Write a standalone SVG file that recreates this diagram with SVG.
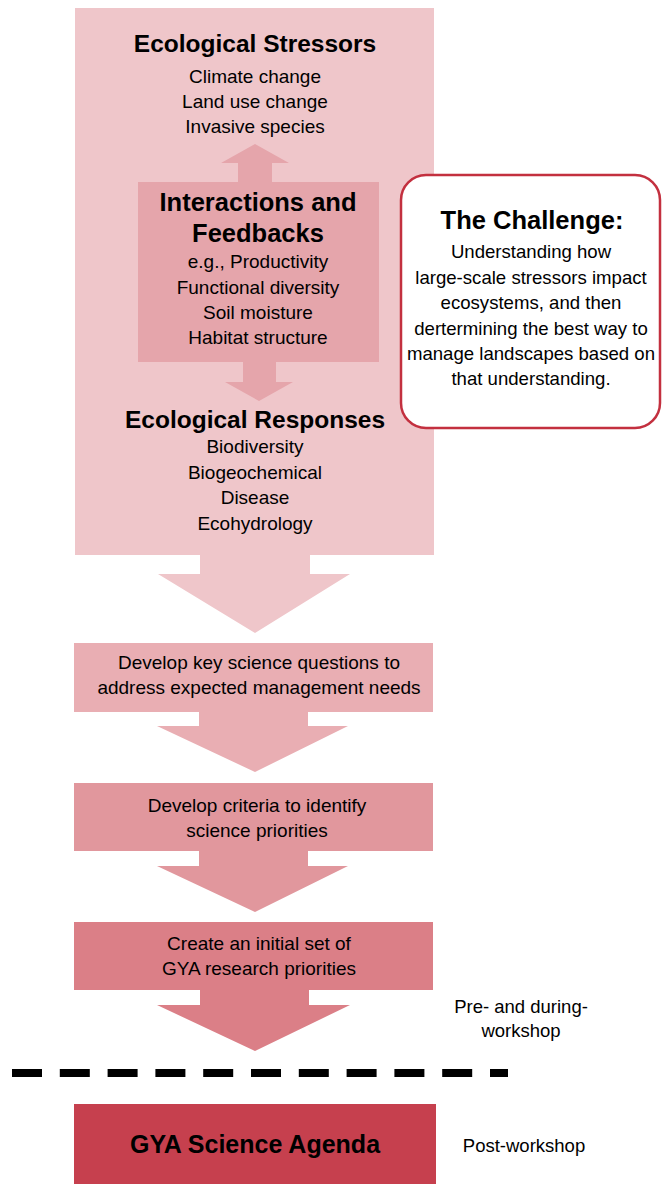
<svg xmlns="http://www.w3.org/2000/svg" width="662" height="1184" viewBox="0 0 662 1184">
<style>
text{font-family:"Liberation Sans",Arial,"DejaVu Sans",sans-serif;fill:#000;text-anchor:middle}
.h{font-weight:bold;font-size:24.5px}
.b{font-size:19px}
.c{font-size:18.6px}
.t{font-size:19px}
.l{font-size:18.5px}
</style>
<rect width="662" height="1184" fill="#fff"/>
<g id="stressors-box">
<rect x="75" y="8" width="359" height="547" fill="#efc6ca"/>
<text class="h" x="255" y="52">Ecological Stressors</text>
<text class="b" x="255" y="83">Climate change</text>
<text class="b" x="255" y="108">Land use change</text>
<text class="b" x="255" y="133">Invasive species</text>
</g>
<g id="connectors">
<polygon points="200,554 310,554 310,574 350,574 255,633 158,574 200,574" fill="#efc6ca"/>
<polygon points="238,183 272,183 272,163 289,163 255,144 221,163 238,163" fill="#e5a5ab"/>
<polygon points="243,361 276,361 276,382 293,382 259,401 225,382 243,382" fill="#e5a5ab"/>
<polygon points="199,711 308,711 308,726 348,726 255,772 157,726 199,726" fill="#e9aeb3"/>
<polygon points="199,850 308,850 308,866 348,866 255,912 157,866 199,866" fill="#e1979d"/>
<polygon points="200,989 309,989 309,1005 350,1005 255,1051 157,1005 200,1005" fill="#db7f87"/>
<line x1="12" y1="1073" x2="508" y2="1073" stroke="#000" stroke-width="8" stroke-dasharray="30 17.8"/>
</g>
<g id="interactions">
<rect x="138" y="182" width="241" height="180" fill="#e5a5ab"/>
<text class="h" x="258" y="211" style="font-size:25.5px">Interactions and</text>
<text class="h" x="258" y="242" style="font-size:25.5px">Feedbacks</text>
<text class="b" x="258" y="268">e.g., Productivity</text>
<text class="b" x="258" y="294">Functional diversity</text>
<text class="b" x="258" y="319">Soil moisture</text>
<text class="b" x="258" y="344">Habitat structure</text>
</g>
<g id="responses">
<text class="h" x="255" y="428">Ecological Responses</text>
<text class="b" x="255" y="453">Biodiversity</text>
<text class="b" x="255" y="479">Biogeochemical</text>
<text class="b" x="255" y="504">Disease</text>
<text class="b" x="255" y="530">Ecohydrology</text>
</g>
<g id="challenge">
<rect x="401" y="175" width="259" height="253" rx="25" fill="#fff" stroke="#c3303f" stroke-width="2.5"/>
<text class="h" x="532" y="229" style="font-size:25.5px">The Challenge:</text>
<text class="c" x="531" y="258">Understanding how</text>
<text class="c" x="531" y="284">large-scale stressors impact</text>
<text class="c" x="531" y="309">ecosystems, and then</text>
<text class="c" x="531" y="335">dertermining the best way to</text>
<text class="c" x="531" y="360">manage landscapes based on</text>
<text class="c" x="531" y="385">that understanding.</text>
</g>
<g id="questions">
<rect x="74" y="643" width="359" height="69" fill="#e9aeb3"/>
<text class="t" x="259" y="669">Develop key science questions to</text>
<text class="t" x="259" y="694">address expected management needs</text>
</g>
<g id="criteria">
<rect x="74" y="783" width="359" height="68" fill="#e1979d"/>
<text class="t" x="257" y="812">Develop criteria to identify</text>
<text class="t" x="257" y="837">science priorities</text>
</g>
<g id="priorities">
<rect x="74" y="922" width="359" height="68" fill="#db7f87"/>
<text class="t" x="259" y="950">Create an initial set of</text>
<text class="t" x="259" y="975">GYA research priorities</text>
</g>
<g id="pre-label">
<text class="l" x="521" y="1013">Pre- and during-</text>
<text class="l" x="521" y="1037">workshop</text>
</g>
<g id="agenda">
<rect x="74" y="1104" width="362" height="80" fill="#c6404e"/>
<text class="h" x="255" y="1153" style="font-size:25px">GYA Science Agenda</text>
</g>
<g id="post-label">
<text class="l" x="524" y="1152">Post-workshop</text>
</g>
</svg>
